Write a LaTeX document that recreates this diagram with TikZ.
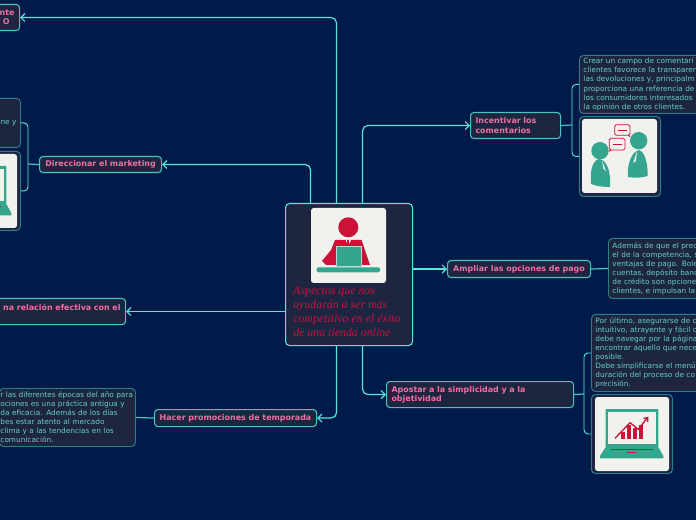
\documentclass[tikz,border=0pt]{standalone}
\usepackage{fontspec}
\setmainfont{DejaVu Sans}
\newfontfamily\titlefont{Liberation Serif}
\usepackage{xcolor}
\usepackage{tikz}
\usetikzlibrary{arrows.meta, positioning, calc}
\definecolor{pagebg}{HTML}{001B4A}
\definecolor{boxbg}{HTML}{1E2540}
\definecolor{linecyan}{HTML}{5BE5DA}
\definecolor{topicedge}{HTML}{47C4BE}
\definecolor{noteedge}{HTML}{2B7F86}
\definecolor{notetext}{HTML}{62D0C2}
\definecolor{topicpink}{HTML}{F06FA3}
\definecolor{titlered}{HTML}{C5123F}
\definecolor{imgwhite}{HTML}{F1F1EE}
\definecolor{iconteal}{HTML}{35A58F}
\definecolor{iconred}{HTML}{CB1237}
\newdimen\px
\px=0.75pt

\begin{document}
\begin{tikzpicture}[
        x=0.75pt, y=-0.75pt,
        central/.style={rectangle, rounded corners=3pt, draw=linecyan, line width=0.8pt, fill=boxbg, anchor=north west, minimum width=127*\px, minimum height=142*\px},
        topic/.style={rectangle, rounded corners=2.5pt, draw=topicedge, line width=0.8pt, fill=boxbg, text=topicpink, anchor=north west, inner xsep=5*\px, inner ysep=0pt, align=left, font=\fontsize{5.95}{6.9}\selectfont\bfseries},
        note/.style={rectangle, rounded corners=3pt, draw=noteedge, line width=0.7pt, fill=boxbg, text=notetext, anchor=north west, inner xsep=4*\px, inner ysep=0pt, align=left, font=\fontsize{5.5}{6.78}\selectfont},
        imgbox/.style={rectangle, rounded corners=3pt, draw=noteedge, line width=0.7pt, fill=boxbg, anchor=north west},
        arrowlink/.style={draw=linecyan, line width=0.9pt, rounded corners=4pt, -{Straight Barb[length=3pt,width=6pt]}},
        branch/.style={draw=linecyan, line width=0.7pt, rounded corners=3pt},
        stem/.style={draw=topicedge, line width=0.9pt},
        laptopicon/.pic={
            \fill[imgwhite, rounded corners=2pt] (0,0) rectangle (74,74);
            \fill[iconteal, rounded corners=0.5pt] (10.7,12) rectangle (63.3,50);
            \fill[imgwhite] (13.3,14.7) rectangle (60.7,47);
            \fill[iconteal] (10.7,50) -- (63.3,50) -- (68.3,59) -- (68.3,61.3) -- (5,61.3) -- (5,59) -- cycle;
            \fill[iconred] (15.7,52) rectangle (58.3,53.2);
            \fill[iconred] (32,55) rectangle (41,56.3);
            \foreach \xbar/\ybar in {26/35, 32/28, 38/31, 44/28}
                \fill[iconred] (\xbar,\ybar) rectangle ++(4,-\ybar+42.3);
            \draw[iconred, line width=1pt, -{Straight Barb[length=2.5pt,width=4pt]}] (20,41.3) -- (35,25.7) -- (43.3,32.3) -- (53.3,19.7);
        }
    ]
        \path[use as bounding box, clip] (0,0) rectangle (696,520);
        \fill[pagebg] (0,0) rectangle (696,520);

        % Topics
        \node[central] (central) at (285,203) {};
        \node[topic, minimum width=138*\px, minimum height=26*\px, text width=128*\px, align=right] (service) at (-119,4) {nte\\O\hspace*{5\px}};
        \node[topic, minimum width=122*\px, minimum height=16*\px] (marketing) at (39,156) {Direccionar el marketing};
        \node[topic, minimum width=205*\px, minimum height=26*\px, text width=195*\px, align=right] (relation) at (-80,298) {na relación efectiva con el\hspace*{3\px}\\\mbox{}};
        \node[topic, minimum width=162*\px, minimum height=17*\px] (season) at (154,409) {Hacer promociones de temporada};
        \node[topic, minimum width=90*\px, minimum height=26*\px, text width=80*\px] (comments) at (470,112) {Incentivar los\\[0.6pt]comentarios};
        \node[topic, minimum width=143*\px, minimum height=17*\px] (payment) at (447,260) {Ampliar las opciones de pago};
        \node[topic, minimum width=187*\px, minimum height=26*\px, text width=177*\px] (simple) at (386,381) {Apostar a la simplicidad y a la\\objetividad};

        % Notes
        \node[note, minimum width=120*\px, minimum height=49*\px, text width=112*\px, align=right] (marketingnote) at (-100,98) {ine y};
        \node[imgbox, minimum width=120*\px, minimum height=79*\px] (marketingimg) at (-100,151) {};
        \node[note, inner xsep=1*\px, minimum width=136*\px, minimum height=58*\px, text width=134*\px] (seasonnote) at (-1,388) {r las diferentes épocas del año para\\ociones es una práctica antigua y\\da eficacia. Además de los días\\bes estar atento al mercado\\clima y a las tendencias en los\\comunicación.};
        \node[note, minimum width=140*\px, minimum height=58*\px, text width=132*\px] (commentsnote) at (579,55) {Crear un campo de comentari\\clientes favorece la transparen\\las devoluciones y, principalm\\proporciona una referencia de\\los consumidores interesados\\la opinión de otros clientes.};
        \node[imgbox, minimum width=81*\px, minimum height=80*\px] (commentsimg) at (579,116) {};
        \node[note, minimum width=110*\px, minimum height=60*\px, text width=102*\px] (paymentnote) at (608,238) {Además de que el prec\\el de la competencia, s\\ventajas de pago. Bole\\cuentas, depósito banc\\de crédito son opcione\\clientes, e impulsan la};
        \node[note, minimum width=130*\px, minimum height=77*\px, text width=122*\px] (simplenote) at (591,314) {Por último, asegurarse de c\\intuitivo, atrayente y fácil c\\debe navegar por la página\\encontrar aquello que nece\\posible.\\Debe simplificarse el menú\\duración del proceso de co\\precisión.};
        \node[imgbox, minimum width=81*\px, minimum height=79*\px] (simpleimg) at (591,394) {};

        % Pictures
        \pic at (-57,154) {laptopicon};
        \pic at (595,397) {laptopicon};

        \fill[imgwhite, rounded corners=2pt] (311,208) rectangle (386,283);
        \begin{scope}[shift={(311,208)}]
            \fill[iconred] (24,32) -- (50.6,32) -- (59,57) -- (15,57) -- (11,53) -- (20,42) -- cycle;
            \fill[imgwhite] (34.5,32) -- (40,32) -- (38.5,35) -- (37.3,37) -- (36,35) -- cycle;
            \fill[iconred] (36.3,32.5) rectangle (38.3,38);
            \fill[iconred] (37.3,19.3) circle (10);
            \fill[iconteal, draw=imgwhite!70!iconteal, line width=0.4pt] (25,38.7) rectangle (50.7,58.7);
            \fill[iconteal, rounded corners=1.5pt] (5.7,59.3) rectangle (69,64.3);
        \end{scope}

        \fill[imgwhite, rounded corners=2pt] (582,119) rectangle (657,193);
        \begin{scope}[shift={(582,119)}]
            \fill[iconteal] (18,31.7) circle (8.7);
            \fill[iconteal] (56.7,21.7) circle (8.7);
            \fill[iconteal] (17,40) .. controls (26,41) and (29,55) .. (28,68) .. controls (20,68) and (14,67) .. (9,65) .. controls (8,52) and (10,42) .. (17,40) -- cycle;
            \fill[iconteal] (57,31) .. controls (63,33) and (66,45) .. (65.7,57) .. controls (60,59) and (52,59) .. (46,58) .. controls (45,46) and (49,33) .. (57,31) -- cycle;
            \fill[imgwhite] (20,41.5) -- (24,52) -- (21.5,50) -- cycle;
            \fill[imgwhite] (55,32) -- (51,44) -- (54,42) -- cycle;
            \draw[iconred, fill=imgwhite, line width=0.6pt, rounded corners=1.2pt] (32.7,5.7) rectangle (48,16.3);
            \draw[iconred, line width=0.7pt] (36,11) -- (44.5,11);
            \fill[iconred] (46,16.3) -- (48,16.3) -- (48,18.3) -- cycle;
            \draw[iconred, fill=imgwhite, line width=0.6pt, rounded corners=1.2pt] (27.3,19.3) rectangle (43,31);
            \draw[iconred, line width=0.7pt] (30.5,25) -- (39.5,25);
            \fill[iconred] (27.3,31) -- (29.5,31) -- (27.3,33) -- cycle;
        \end{scope}

        \node[text=titlered, anchor=north west, inner sep=0pt, align=left, font=\titlefont\itshape\fontsize{8.9}{10.5}\selectfont] (title) at (293,286) {Aspectos que nos\\ayudarán a ser más\\competitivo en el éxito\\de una tienda online};

        % Connectors
        \draw[arrowlink] ([xshift=-12.5*\px]central.north) |- (service.east);
        \draw[arrowlink] ([xshift=-38.5*\px]central.north) |- (marketing.east);
        \draw[arrowlink] (central.west |- relation.east) -- (relation.east);
        \draw[arrowlink] ([xshift=-12.5*\px]central.south) |- (season.east);
        \draw[arrowlink] ([xshift=13.5*\px]central.north) |- (comments.west);
        \draw[arrowlink] (central.east |- payment.west) -- (payment.west);
        \draw[arrowlink] ([xshift=13.5*\px]central.south) |- (simple.west);

        \coordinate (marketingjoin) at (28,164);
        \coordinate (commentsjoin) at (572,125);
        \coordinate (simplejoin) at (584,394);
        \draw[branch] (marketingnote.east) -| (marketingjoin) |- (marketingimg.east);
        \draw[stem] (marketing.west) -- (marketingjoin);
        \draw[branch] (commentsnote.west) -| (commentsjoin) |- (commentsimg.west);
        \draw[stem] (comments.east) -- (commentsjoin);
        \draw[branch] (simplenote.west) -| (simplejoin) |- (simpleimg.west);
        \draw[stem] (simple.east) -- (simplejoin);
        \draw[stem] (season.west) -- (seasonnote.east);
        \draw[stem] (payment.east) -- (paymentnote.west);
    \end{tikzpicture}
\end{document}
